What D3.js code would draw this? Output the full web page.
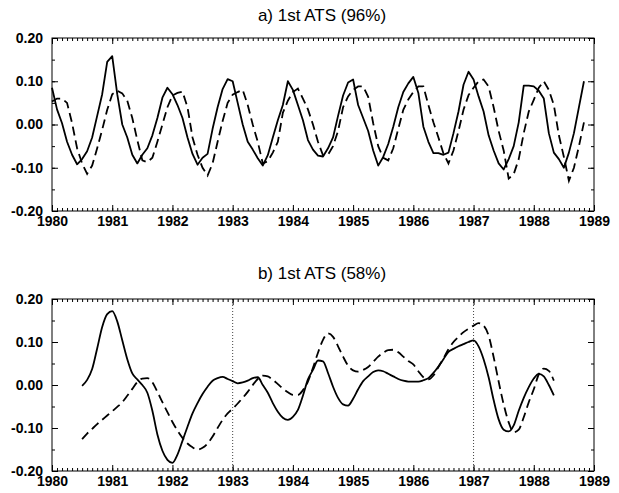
<!DOCTYPE html>
<html>
<head>
<meta charset="utf-8">
<script src="https://cdn.jsdelivr.net/npm/d3@7"></script>
<style>
body { margin: 0; background: #fff; }
text { font-family: "Liberation Sans", Arial, sans-serif; }
</style>
</head>
<body>
<svg id="chart" width="619" height="493"></svg>
<script>
var years = d3.range(1980, 1990);
var valueTicks = [-0.2, -0.1, 0, 0.1, 0.2];
var titles = ["a) 1st ATS (96%)", "b) 1st ATS (58%)"];
var gridYears = [1983, 1987];

// panel a: monthly values from Jan 1980
var topStart = 1980;
var topSolid = [
    0.085, 0.035, 0.003, -0.04, -0.07, -0.092, -0.08, -0.062, -0.03, 0.02, 0.07, 0.145,
    0.158, 0.07, 0.0, -0.03, -0.07, -0.09, -0.07, -0.055, -0.025, 0.015, 0.062, 0.085,
    0.07, 0.045, 0.015, -0.03, -0.068, -0.093, -0.077, -0.068, -0.01, 0.04, 0.082, 0.105,
    0.1, 0.05, 0.0, -0.04, -0.058, -0.078, -0.095, -0.071, -0.03, 0.01, 0.045, 0.1,
    0.08, 0.045, 0.01, -0.036, -0.058, -0.072, -0.074, -0.055, -0.03, 0.02, 0.067, 0.097,
    0.104, 0.045, 0.015, -0.015, -0.06, -0.095, -0.075, -0.045, -0.005, 0.04, 0.075, 0.095,
    0.11, 0.073, -0.005, -0.04, -0.066, -0.066, -0.07, -0.065, -0.02, 0.03, 0.092, 0.122,
    0.104, 0.065, 0.03, -0.025, -0.06, -0.09, -0.104, -0.08, -0.05, 0.005, 0.09, 0.09,
    0.088, 0.078, 0.06, -0.02, -0.065, -0.08, -0.1, -0.065, -0.02, 0.04, 0.1
];
var topDashed = [
    0.053, 0.06, 0.06, 0.05, 0.003, -0.055, -0.09, -0.114, -0.095, -0.055, -0.012, 0.034,
    0.07, 0.078, 0.072, 0.055, 0.015, -0.036, -0.083, -0.087, -0.077, -0.04, 0.0, 0.04,
    0.067, 0.073, 0.076, 0.04, -0.03, -0.07, -0.1, -0.118, -0.09, -0.04, 0.008, 0.05,
    0.069, 0.075, 0.08, 0.045, 0.0, -0.04, -0.09, -0.085, -0.065, -0.04, 0.027, 0.055,
    0.075, 0.083, 0.06, 0.035, 0.0, -0.04, -0.071, -0.07, -0.05, -0.015, 0.04, 0.065,
    0.08, 0.088, 0.088, 0.064, 0.003, -0.05, -0.077, -0.083, -0.055, -0.01, 0.034, 0.058,
    0.075, 0.088, 0.088, 0.045, 0.005, -0.03, -0.067, -0.09, -0.06, -0.015, 0.034, 0.068,
    0.085, 0.1, 0.104, 0.088, 0.04, -0.015, -0.06, -0.125, -0.115, -0.08, -0.02, 0.03,
    0.057, 0.085, 0.1, 0.08, 0.045, -0.025, -0.075, -0.13, -0.1, -0.05, 0.005
];

// panel b: monthly values from Jul 1980
var botStart = 1980.5;
var botSolid = [
    -0.002, 0.012, 0.037, 0.085, 0.135, 0.165,
    0.172, 0.148, 0.104, 0.06, 0.027, 0.013, 0.0, -0.018, -0.06, -0.115, -0.153, -0.174,
    -0.181, -0.162, -0.13, -0.097, -0.066, -0.042, -0.021, -0.004, 0.01, 0.016, 0.019, 0.014,
    0.009, 0.004, 0.006, 0.01, 0.016, 0.018, 0.0, -0.018, -0.042, -0.062, -0.076, -0.081,
    -0.074, -0.058, -0.025, 0.013, 0.035, 0.057, 0.055, 0.028, -0.004, -0.03, -0.045, -0.048,
    -0.032, -0.01, 0.009, 0.02, 0.03, 0.034, 0.032, 0.026, 0.02, 0.014, 0.01, 0.008,
    0.008, 0.008, 0.011, 0.016, 0.028, 0.043, 0.06, 0.077, 0.084, 0.09, 0.095, 0.1,
    0.104, 0.09, 0.06, 0.018, -0.035, -0.08, -0.104, -0.108, -0.094, -0.06, -0.03, -0.005,
    0.015, 0.026, 0.02, 0.0, -0.024
];
var botDashed = [
    -0.126, -0.113, -0.102, -0.091, -0.081, -0.071,
    -0.061, -0.051, -0.04, -0.025, -0.009, 0.007, 0.015, 0.016, 0.006, -0.016, -0.04, -0.063,
    -0.086, -0.106, -0.123, -0.136, -0.145, -0.15, -0.146, -0.136, -0.12, -0.1, -0.081, -0.066,
    -0.055, -0.043, -0.03, -0.016, 0.0, 0.014, 0.022, 0.02, 0.012, 0.002, -0.008, -0.017,
    -0.023, -0.023, -0.012, 0.008, 0.04, 0.075, 0.105, 0.12, 0.112, 0.09, 0.066, 0.045,
    0.034, 0.031, 0.035, 0.042, 0.054, 0.066, 0.075, 0.081, 0.082, 0.076, 0.066, 0.056,
    0.048, 0.032, 0.018, 0.013, 0.022, 0.042, 0.062, 0.083, 0.1, 0.112, 0.123, 0.131,
    0.138, 0.144, 0.138, 0.115, 0.065, 0.008, -0.045, -0.087, -0.11, -0.104, -0.075, -0.04,
    -0.01, 0.025, 0.038, 0.033, 0.01
];

var svg = d3.select("#chart");
var x = d3.scaleLinear().domain([1980, 1989]).range([52, 594]);
var months = d3.range(1980, 1989.001, 1 / 12);
var minorVals = d3.range(-0.2, 0.2001, 0.05);

function toPoints(start, arr) {
    return arr.map(function (v, i) { return { t: start + i / 12, v: v }; });
}

var panels = [
    { top: 38, bottom: 211, titleY: 21, title: titles[0], start: topStart,
      solid: topSolid, dashed: topDashed, curve: d3.curveLinear, grid: [] },
    { top: 299, bottom: 471, titleY: 279, title: titles[1], start: botStart,
      solid: botSolid, dashed: botDashed, curve: d3.curveMonotoneX, grid: gridYears }
];

panels.forEach(function (p) {
    var y = d3.scaleLinear().domain([-0.2, 0.2]).range([p.bottom, p.top]);
    var g = svg.append("g");

    g.append("text")
        .attr("x", 322).attr("y", p.titleY)
        .attr("text-anchor", "middle")
        .attr("font-size", "17px")
        .text(p.title);

    // dotted year lines (panel b only)
    g.selectAll(".grid").data(p.grid).enter().append("line")
        .attr("x1", function (d) { return x(d); }).attr("x2", function (d) { return x(d); })
        .attr("y1", p.top).attr("y2", p.bottom)
        .attr("stroke", "#444").attr("stroke-width", 1)
        .attr("stroke-dasharray", "1,2");

    // frame
    g.append("rect")
        .attr("x", x(1980)).attr("y", p.top)
        .attr("width", x(1989) - x(1980)).attr("height", p.bottom - p.top)
        .attr("fill", "none").attr("stroke", "#000").attr("stroke-width", 1);

    function styleAxis(sel) {
        sel.select(".domain").remove();
        sel.selectAll("line").attr("stroke", "#000");
    }

    // bottom axis with year labels
    g.append("g").attr("transform", "translate(0," + p.bottom + ")")
        .call(d3.axisBottom(x).tickValues(years).tickFormat(d3.format("d"))
            .tickSize(-6).tickPadding(5))
        .call(styleAxis)
        .selectAll("text")
        .attr("font-size", "14px").attr("font-weight", "bold").attr("fill", "#000")
        .style("font-family", "'Liberation Sans', Arial, sans-serif");
    g.append("g").attr("transform", "translate(0," + p.bottom + ")")
        .call(d3.axisBottom(x).tickValues(months).tickFormat("").tickSize(-3))
        .call(styleAxis);

    // top axis, ticks only
    g.append("g").attr("transform", "translate(0," + p.top + ")")
        .call(d3.axisTop(x).tickValues(years).tickFormat("").tickSize(-6))
        .call(styleAxis);
    g.append("g").attr("transform", "translate(0," + p.top + ")")
        .call(d3.axisTop(x).tickValues(months).tickFormat("").tickSize(-3))
        .call(styleAxis);

    // left axis with labels
    g.append("g").attr("transform", "translate(" + x(1980) + ",0)")
        .call(d3.axisLeft(y).tickValues(valueTicks)
            .tickFormat(function (d) { return d.toFixed(2); })
            .tickSize(-6).tickPadding(9))
        .call(styleAxis)
        .selectAll("text")
        .attr("font-size", "14px").attr("font-weight", "bold").attr("fill", "#000")
        .style("font-family", "'Liberation Sans', Arial, sans-serif");
    g.append("g").attr("transform", "translate(" + x(1980) + ",0)")
        .call(d3.axisLeft(y).tickValues(minorVals).tickFormat("").tickSize(-3))
        .call(styleAxis);

    // right axis, ticks only
    g.append("g").attr("transform", "translate(" + x(1989) + ",0)")
        .call(d3.axisRight(y).tickValues(valueTicks).tickFormat("").tickSize(-6))
        .call(styleAxis);
    g.append("g").attr("transform", "translate(" + x(1989) + ",0)")
        .call(d3.axisRight(y).tickValues(minorVals).tickFormat("").tickSize(-3))
        .call(styleAxis);

    var line = d3.line()
        .x(function (d) { return x(d.t); })
        .y(function (d) { return y(d.v); })
        .curve(p.curve);

    g.append("path").datum(toPoints(p.start, p.solid))
        .attr("d", line)
        .attr("fill", "none").attr("stroke", "#000").attr("stroke-width", 1.8)
        .attr("stroke-linejoin", "round");
    g.append("path").datum(toPoints(p.start, p.dashed))
        .attr("d", line)
        .attr("fill", "none").attr("stroke", "#000").attr("stroke-width", 1.8)
        .attr("stroke-dasharray", "9,5");
});
</script>
</body>
</html>
